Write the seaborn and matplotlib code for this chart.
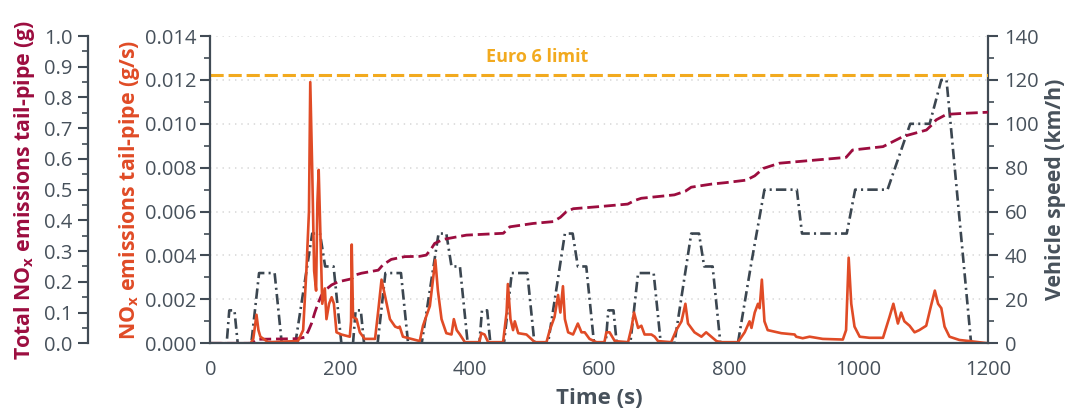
import matplotlib
matplotlib.use("Agg")
import matplotlib.pyplot as plt
import seaborn as sns
import numpy as np
import pandas as pd
from matplotlib.ticker import MultipleLocator, FormatStrFormatter

# ---------------- data ----------------
speed_t = [0, 25, 29, 37, 42, 63, 75, 99, 110, 131, 157, 169, 177, 190, 202,
           220, 224, 232, 237, 258, 270, 294, 305, 326, 352, 364, 372, 385, 397,
           415, 419, 427, 432, 453, 465, 489, 500, 521, 547, 559, 567, 580, 592,
           610, 614, 622, 627, 648, 660, 684, 695, 716, 742, 754, 762, 775, 787,
           814, 835, 855, 905, 913, 982, 995, 1045, 1080, 1110, 1128, 1136, 1174, 1200]
speed_v = [0, 0, 15, 15, 0, 0, 32, 32, 0, 0, 50, 50, 35, 35, 0,
           0, 15, 15, 0, 0, 32, 32, 0, 0, 50, 50, 35, 35, 0,
           0, 15, 15, 0, 0, 32, 32, 0, 0, 50, 50, 35, 35, 0,
           0, 15, 15, 0, 0, 32, 32, 0, 0, 50, 50, 35, 35, 0,
           0, 37, 70, 70, 50, 50, 70, 70, 100, 100, 120, 120, 0, 0]

nox_t = [0, 62, 66, 71, 74, 77, 89, 135, 143, 148, 152, 154, 157, 160, 163, 165, 167,
         170.5, 172.5, 176.5, 179, 183, 187, 190.5, 194.5, 202, 215, 217, 218, 220, 225.5,
         230.5, 238, 254, 259, 264, 269, 277, 285, 290, 292, 297, 310, 323, 328, 338.6,
         343.7, 347, 351, 356.6, 364, 372, 375.6, 380, 385, 392.6, 415, 418, 423, 428.5,
         451.6, 457, 459, 463, 467, 469.7, 475, 487.7, 495, 500.5, 518.6, 523.7, 531,
         536.5, 540, 544, 547, 552, 559.6, 567, 572.6, 577.6, 585, 595.7, 608, 611, 616,
         624, 644.5, 649.7, 653.7, 660, 665, 670, 680.5, 685.6, 690.7, 711, 719, 727, 733,
         737, 747, 757.7, 765, 773, 781, 788.5, 814, 824.5, 832, 835, 840, 845, 847.6, 851,
         855, 860, 881, 901.6, 904, 914, 924.7, 945, 976, 981, 985, 989, 994, 1002, 1017,
         1038, 1048, 1054, 1061, 1066, 1071, 1079, 1086.7, 1094, 1104.7, 1112, 1118, 1123,
         1128, 1133, 1140.6, 1156, 1171.6, 1200]
nox_gs = [0, 0, 0.0002, 0.0013, 0.0006, 0.0003, 0.00005, 0.0001, 0.0006, 0.0033, 0.006,
          0.0119, 0.0079, 0.0033, 0.0024, 0.0064, 0.0079, 0.0041, 0.0018, 0.0025, 0.0011,
          0.0018, 0.0021, 0.0018, 0.0005, 0.0004, 0.0003, 0.0010, 0.0045, 0.0012, 0.0011,
          0.0005, 0.0002, 0.0002, 0.0015, 0.0029, 0.0022, 0.0011, 0.00076, 0.0007, 0.00076,
          0.0003, 0.0002, 0.0001, 0.0008, 0.0017, 0.003, 0.0038, 0.0024, 0.0011, 0.00046,
          0.0004, 0.0011, 0.0006, 0.0004, 0.00005, 0.00005, 0.00046, 0.0004, 0.00005,
          0.00005, 0.0014, 0.0027, 0.0011, 0.0006, 0.001, 0.00046, 0.0004, 0.0002, 0.00005,
          0.00005, 0.0006, 0.0012, 0.0022, 0.0014, 0.0026, 0.0011, 0.0005, 0.0004, 0.0009,
          0.0005, 0.0005, 0.0002, 0.00005, 0.00005, 0.0005, 0.0005, 0.0001, 0.00005, 0.0007,
          0.0014, 0.0007, 0.0008, 0.0004, 0.0004, 0.0003, 0.0001, 0.00005, 0.0006, 0.001,
          0.0018, 0.0009, 0.0005, 0.0003, 0.0005, 0.0003, 0.0001, 0.00005, 0.00005, 0.0005,
          0.001, 0.0007, 0.0014, 0.0018, 0.0016, 0.0029, 0.0010, 0.0006, 0.00046, 0.0004,
          0.0003, 0.00023, 0.0003, 0.0002, 0.00017, 0.0006, 0.0039, 0.0018, 0.00076, 0.0003,
          0.00025, 0.00025, 0.0012, 0.0018, 0.0009, 0.0014, 0.001, 0.0008, 0.0005, 0.0006,
          0.0008, 0.0017, 0.0024, 0.0018, 0.0016, 0.00076, 0.0003, 0.00015, 0.0001, 0.0]

total_t = [0, 63, 73, 135, 146, 151, 156, 161, 166, 171, 177, 187, 197, 218, 223, 233,
           259, 266, 279, 300, 323, 333, 340, 346, 359, 395, 452, 462, 498, 529, 540, 549,
           560, 601, 644, 655, 665, 716, 733, 742, 773, 796, 827, 840, 853, 878, 894, 981,
           991, 1038, 1053, 1069, 1105, 1113, 1120, 1136, 1160, 1200]
total_g = [0, 0, 0.013, 0.015, 0.02, 0.04, 0.065, 0.1, 0.13, 0.155, 0.173, 0.19, 0.2,
           0.21, 0.222, 0.228, 0.238, 0.255, 0.273, 0.282, 0.283, 0.287, 0.305, 0.325,
           0.338, 0.352, 0.358, 0.379, 0.39, 0.396, 0.41, 0.428, 0.438, 0.445, 0.453,
           0.465, 0.472, 0.483, 0.495, 0.508, 0.518, 0.523, 0.531, 0.545, 0.569, 0.586,
           0.589, 0.605, 0.629, 0.64, 0.656, 0.673, 0.694, 0.71, 0.727, 0.745, 0.748, 0.752]

euro6_limit = 0.873
euro6_label = "Euro 6 limit"

# ---------------- style ----------------
sns.set_style("white")
plt.rcParams['font.family'] = ['Open Sans', 'DejaVu Sans']
plt.rcParams['mathtext.fontset'] = 'custom'
plt.rcParams['mathtext.rm'] = 'Open Sans'
plt.rcParams['mathtext.bf'] = 'Open Sans:bold'
plt.rcParams['lines.scale_dashes'] = False

C_ORANGE = "#e04b26"
C_CRIMSON = "#9c0d3f"
C_GRAY = "#3b4650"
C_YELLOW = "#f2aa1f"
C_AX = "#414b55"
C_TXT = "#47515b"
C_GRID = "#d9d9d9"
FS = 14.5
LFS = 15.3

fig = plt.figure(figsize=(10.69, 4.13), dpi=100)
ax = fig.add_axes([0.1969, 0.1688, 0.7273, 0.7440])
ax_speed = ax.twinx()
ax_total = ax.twinx()

ax_speed.set_zorder(1)
ax_total.set_zorder(2)
ax.set_zorder(3)
ax.patch.set_visible(False)
ax_total.patch.set_visible(False)

df_speed = pd.DataFrame({"t": speed_t, "v": speed_v})
df_nox = pd.DataFrame({"t": nox_t, "g": nox_gs})
df_total = pd.DataFrame({"t": total_t, "g": total_g})

sns.lineplot(data=df_speed, x="t", y="v", ax=ax_speed, color=C_GRAY, linewidth=1.9)
ax_speed.lines[-1].set_dashes([7.5, 3, 1.5, 3])
sns.lineplot(data=df_total, x="t", y="g", ax=ax_total, color=C_CRIMSON, linewidth=2.0)
ax_total.lines[-1].set_dashes([8.5, 3.5])
ax_total.axhline(euro6_limit, color=C_YELLOW, linewidth=2.2, dashes=[9.5, 3.5], zorder=5)
ax_total.text(504, 0.932, euro6_label, color=C_YELLOW, fontsize=13, fontweight='bold',
              ha='center', va='center')
sns.lineplot(data=df_nox, x="t", y="g", ax=ax, color=C_ORANGE, linewidth=1.9)

# limits
ax.set_xlim(0, 1200)
ax.set_ylim(0, 0.014)
ax_total.set_ylim(0, 1.0)
ax_speed.set_ylim(0, 140)

# grids on the bottom axes
ax_speed.grid(False)
ax.grid(False)
ax_total.grid(False)
ax_speed.yaxis.set_major_locator(MultipleLocator(20))
ax_speed.yaxis.set_minor_locator(MultipleLocator(10))
ax_speed.yaxis.grid(True, which='major', color=C_GRID, linestyle=(0, (1, 3.5)), linewidth=1.2)
ax_speed.xaxis.grid(True, which='major', color="#dedede", linestyle='-', linewidth=1.0)

# x axis
ax.xaxis.set_major_locator(MultipleLocator(200))
ax.xaxis.set_minor_locator(MultipleLocator(100))
ax.set_xlabel("Time (s)", fontsize=16, fontweight='bold', color=C_TXT, labelpad=6)
ax.set_ylabel("NO$_\\mathbf{x}$ emissions tail-pipe (g/s)", fontsize=LFS, fontweight='bold',
              color=C_ORANGE, labelpad=2)
ax.yaxis.set_major_locator(MultipleLocator(0.002))
ax.yaxis.set_minor_locator(MultipleLocator(0.001))
ax.yaxis.set_major_formatter(FormatStrFormatter('%.3f'))

ax_total.yaxis.set_major_locator(MultipleLocator(0.1))
ax_total.yaxis.set_minor_locator(MultipleLocator(0.05))
ax_total.yaxis.set_major_formatter(FormatStrFormatter('%.1f'))
ax_total.yaxis.set_ticks_position('left')
ax_total.yaxis.set_label_position('left')
ax_total.spines['left'].set_position(('axes', -0.1576))
ax_total.set_ylabel("Total NO$_\\mathbf{x}$ emissions tail-pipe (g)", fontsize=LFS,
                    fontweight='bold', color=C_CRIMSON, labelpad=5)

ax_speed.set_ylabel("Vehicle speed (km/h)", fontsize=LFS, fontweight='bold', color=C_TXT,
                    labelpad=4)

for a in (ax, ax_total, ax_speed):
    for s in a.spines.values():
        s.set_visible(False)
    a.tick_params(which='major', length=7, width=1.5, color=C_AX, labelcolor=C_TXT,
                  labelsize=FS, direction='out')
    a.tick_params(which='minor', length=4, width=1.2, color=C_AX, direction='out')

ax.spines['left'].set_visible(True)
ax.spines['bottom'].set_visible(True)
ax_total.spines['left'].set_visible(True)
ax_speed.spines['right'].set_visible(True)
for a, k in ((ax, 'left'), (ax, 'bottom'), (ax_total, 'left'), (ax_speed, 'right')):
    a.spines[k].set_color(C_AX)
    a.spines[k].set_linewidth(1.6)

ax.tick_params(axis='y', pad=3)
ax.tick_params(axis='x', pad=5)
ax_total.tick_params(axis='y', pad=4)
ax_speed.tick_params(axis='y', pad=5)
ax_total.tick_params(axis='x', which='both', bottom=False, labelbottom=False)
ax_speed.tick_params(axis='x', which='both', bottom=False, labelbottom=False)

fig.savefig("out.png", dpi=100, facecolor='white')
